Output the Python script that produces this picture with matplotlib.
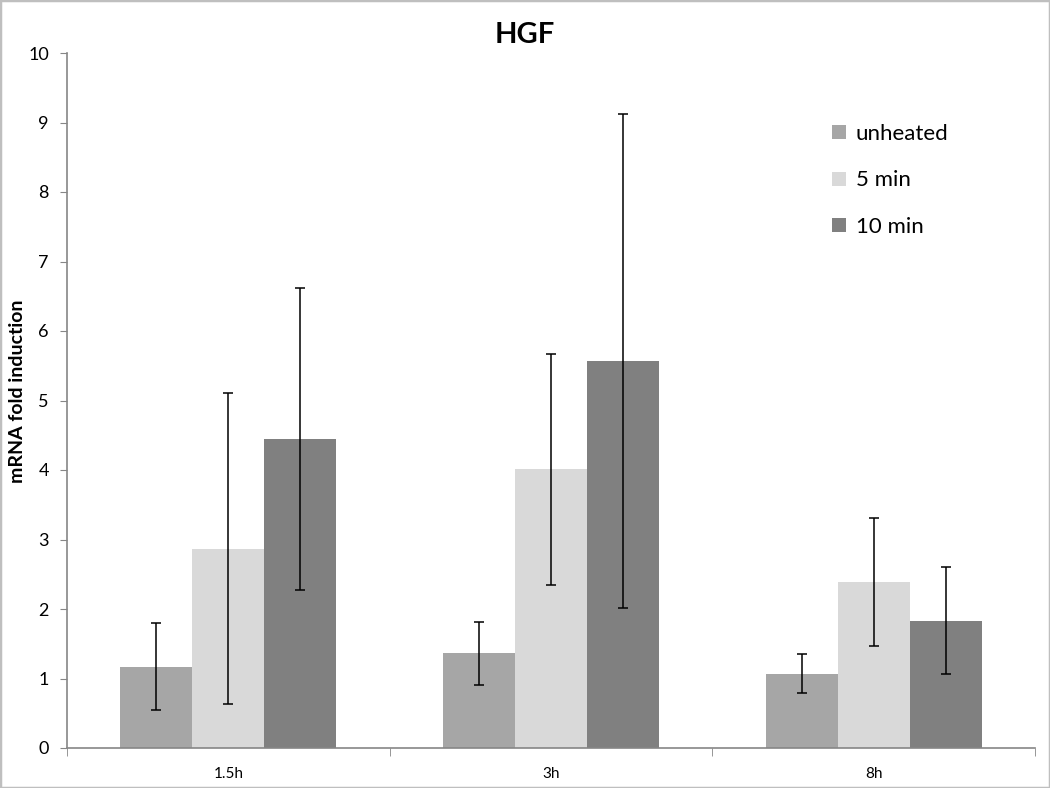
import matplotlib
matplotlib.use("Agg")
import matplotlib.pyplot as plt
import numpy as np
from matplotlib.patches import Rectangle

plt.rcParams['font.family'] = ['Lato', 'DejaVu Sans']

categories = ["1.5h", "3h", "8h"]
series_names = ["unheated", "5 min", "10 min"]
unheated = [1.17, 1.36, 1.07]
unheated_err = [0.63, 0.45, 0.28]
min5 = [2.87, 4.01, 2.39]
min5_err = [2.24, 1.66, 0.92]
min10 = [4.45, 5.57, 1.83]
min10_err = [2.17, 3.55, 0.77]
colors = ["#A6A6A6", "#D9D9D9", "#808080"]

fig = plt.figure(figsize=(10.5, 7.88), dpi=100)
fig.patches.append(Rectangle((0, 0), 1, 1, transform=fig.transFigure, fill=False,
                             edgecolor="#BFBFBF", linewidth=2.5))
ax = fig.add_axes([67/1050, 1-748/788, (1035-67)/1050, (748-53)/788])

x = np.arange(len(categories))
w = 0.223
axis_col = "#868686"
for i, (vals, errs) in enumerate([(unheated, unheated_err), (min5, min5_err), (min10, min10_err)]):
    ax.bar(x + (i-1)*w, vals, w, color=colors[i], label=series_names[i], zorder=2)
    ax.errorbar(x + (i-1)*w, vals, yerr=errs, fmt='none', ecolor='black',
                elinewidth=1.1, capsize=3.5, capthick=1.1, zorder=3)

ax.set_xlim(-0.5, 2.5)
ax.set_ylim(0, 10)
ax.set_yticks(range(0, 11))
ax.tick_params(axis='y', length=5, color=axis_col, labelsize=13, pad=8)
ax.set_xticks(x)
ax.set_xticklabels(categories)
ax.tick_params(axis='x', length=0, labelsize=11, pad=14)
ax.set_xticks([-0.5, 0.5, 1.5, 2.5], minor=True)
ax.tick_params(axis='x', which='minor', length=6, color=axis_col, direction='out')
for s in ['top', 'right']:
    ax.spines[s].set_visible(False)
for s in ['left', 'bottom']:
    ax.spines[s].set_color(axis_col)
    ax.spines[s].set_linewidth(1.2)

fig.text(18/1050, 1-391/788, "mRNA fold induction", rotation=90, ha='center', va='center',
         fontsize=14, fontweight='bold')
fig.text(0.5, 1-35/788, "HGF", ha='center', va='center', fontsize=21, fontweight='bold')

leg = ax.legend(loc='upper left', bbox_to_anchor=(0.77, 0.927), frameon=False,
                fontsize=16, handlelength=0.6, handleheight=0.6, handletextpad=0.45,
                labelspacing=1.2)

fig.savefig("out.png", dpi=100)
